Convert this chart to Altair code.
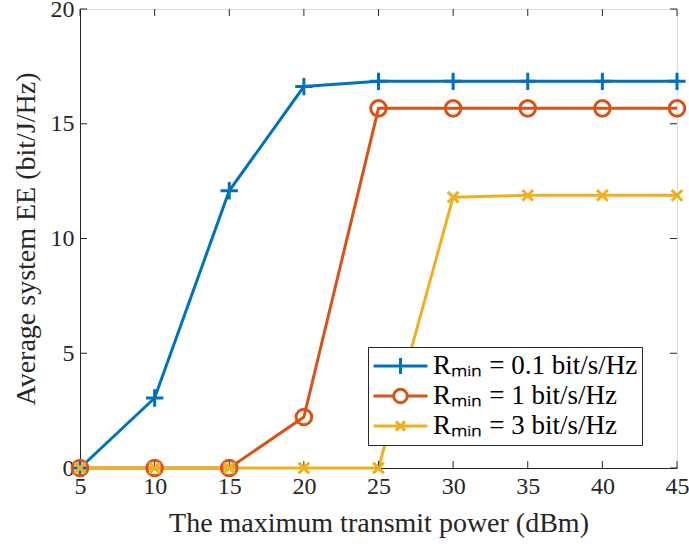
import altair as alt
import pandas as pd

# ---- data ----
power = [5, 10, 15, 20, 25, 30, 35, 40, 45]
ee_r01 = [0.0, 3.05, 12.08, 16.62, 16.85, 16.85, 16.85, 16.85, 16.85]
ee_r1 = [0.0, 0.0, 0.0, 2.22, 15.67, 15.67, 15.67, 15.67, 15.67]
ee_r3 = [0.0, 0.0, 0.0, 0.0, 0.0, 11.8, 11.88, 11.88, 11.88]
series_names = ["Rₘᵢₙ = 0.1 bit/s/Hz", "Rₘᵢₙ = 1 bit/s/Hz", "Rₘᵢₙ = 3 bit/s/Hz"]
x_ticks = [5, 10, 15, 20, 25, 30, 35, 40, 45]
y_ticks = [0, 5, 10, 15, 20]

colors = ["#0072BD", "#D95319", "#EDB120"]
marker_paths = [
    "M-1,0H1M0,-1V1",
    "M0.9,0A0.9,0.9 0 1 1 -0.9,0A0.9,0.9 0 1 1 0.9,0",
    "M-0.62,-0.62L0.62,0.62M-0.62,0.62L0.62,-0.62",
]
legend_paths = [
    "M-1,0H1M0,-0.3V0.3",
    "M-1,0H-0.25M0.25,0H1M0.25,0A0.25,0.25 0 1 1 -0.25,0A0.25,0.25 0 1 1 0.25,0",
    "M-1,0H1M-0.17,-0.17L0.17,0.17M-0.17,0.17L0.17,-0.17",
]

rows = []
for name, vals in zip(series_names, [ee_r01, ee_r1, ee_r3]):
    for p, v in zip(power, vals):
        rows.append({"power": p, "ee": v, "series": name})
df = pd.DataFrame(rows)

W, H = 597, 459
FONT = "Liberation Serif"
TXT = "#262626"

xs = alt.Scale(domain=[5, 45], nice=False)
ys = alt.Scale(domain=[0, 20], nice=False)

xenc = alt.X("power:Q", scale=xs,
             axis=alt.Axis(values=x_ticks, title="The maximum transmit power (dBm)",
                           grid=False, ticks=False, labelPadding=6, titlePadding=11,
                           domainColor=TXT, labelColor=TXT, titleColor=TXT,
                           labelFontSize=24, titleFontSize=28, labelFont=FONT,
                           titleFont=FONT, titleFontWeight="normal", labelFlush=False))
yenc = alt.Y("ee:Q", scale=ys,
             axis=alt.Axis(values=y_ticks, title="Average system EE (bit/J/Hz)",
                           grid=False, ticks=False, labelPadding=6, titlePadding=10,
                           domainColor=TXT, labelColor=TXT, titleColor=TXT,
                           labelFontSize=24, titleFontSize=28, labelFont=FONT,
                           titleFont=FONT, titleFontWeight="normal", labelFlush=False))

base = alt.Chart(df)

line_layers = []
point_layers = []
for i, (name, col, path) in enumerate(zip(series_names, colors, marker_paths)):
    sub = base.transform_filter(alt.datum.series == name)
    if i == 0:
        line_layers.append(sub.mark_line(strokeWidth=3, color=col, clip=False)
                           .encode(x=xenc, y=yenc))
    else:
        line_layers.append(sub.mark_line(strokeWidth=3, color=col, clip=False)
                           .encode(x="power:Q", y="ee:Q"))
    point_layers.append(
        sub.mark_point(shape=path, size=300, filled=False, strokeWidth=3,
                       color=col, opacity=1, clip=False)
        .encode(x="power:Q", y="ee:Q")
    )

LEG_FS = 27
legend_props = dict(title=None, orient="none", legendX=288, legendY=338,
                    labelFont=FONT, labelFontSize=LEG_FS, labelColor="#000000",
                    symbolSize=2916, symbolStrokeWidth=3, symbolOpacity=1,
                    clipHeight=30, rowPadding=0, labelOffset=4, padding=4,
                    strokeColor="#262626", fillColor="#ffffff", labelLimit=400)

legend_layer = base.mark_point(
    filled=False, strokeWidth=3, size=2916, opacity=0
).encode(
    x="power:Q", y="ee:Q",
    color=alt.Color("series:N", scale=alt.Scale(domain=series_names, range=colors),
                    legend=alt.Legend(**legend_props)),
    shape=alt.Shape("series:N", scale=alt.Scale(domain=series_names, range=legend_paths),
                    legend=alt.Legend(**legend_props)),
)

# inward tick marks on all four sides
tx = pd.DataFrame({"t": x_ticks})
ty = pd.DataFrame({"t": y_ticks})
tick_style = dict(color=TXT, strokeWidth=1)
bottom_ticks = alt.Chart(tx).mark_rule(**tick_style).encode(
    x=alt.X("t:Q", scale=xs), y=alt.value(H), y2=alt.value(H - 7))
top_ticks = alt.Chart(tx).mark_rule(**tick_style).encode(
    x=alt.X("t:Q", scale=xs), y=alt.value(0), y2=alt.value(7))
left_ticks = alt.Chart(ty).mark_rule(**tick_style).encode(
    y=alt.Y("t:Q", scale=ys), x=alt.value(0), x2=alt.value(7))
right_ticks = alt.Chart(ty).mark_rule(**tick_style).encode(
    y=alt.Y("t:Q", scale=ys), x=alt.value(W - 7), x2=alt.value(W))

chart = alt.layer(
    *line_layers, bottom_ticks, top_ticks, left_ticks, right_ticks,
    *point_layers, legend_layer
).properties(
    width=W, height=H,
    autosize="none",
    padding={"left": 80, "top": 9, "right": 12, "bottom": 81},
).configure_view(
    stroke=TXT, strokeWidth=1
).configure_legend(
    labelFont=FONT, labelFontSize=LEG_FS, labelColor="#000000", labelLimit=400,
    symbolStrokeWidth=3, symbolOpacity=1, clipHeight=30, rowPadding=0,
    labelOffset=4, padding=4, strokeColor="#262626", fillColor="#ffffff",
).configure(background="white")

chart.save("out.html", embed_options={"renderer": "svg", "actions": False})
